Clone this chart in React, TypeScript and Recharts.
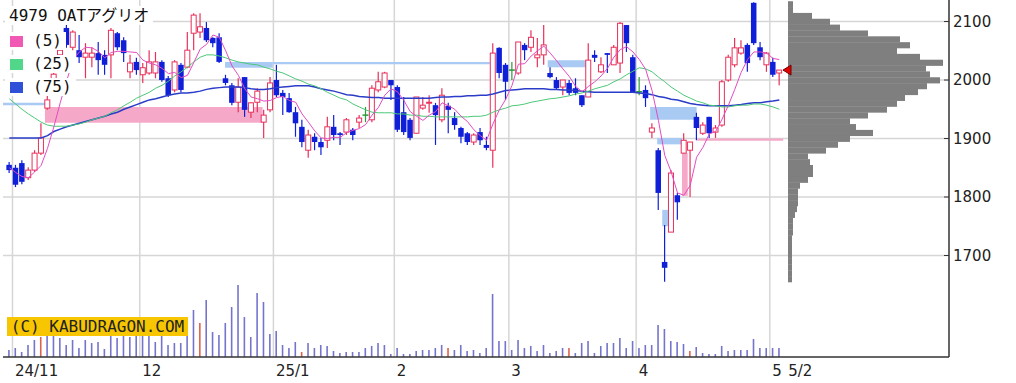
import React from 'react';
import {
  ComposedChart,
  Bar,
  Line,
  XAxis,
  YAxis,
  CartesianGrid,
  ReferenceArea,
  ReferenceDot,
  Cell,
} from 'recharts';

// 日足 index 0 = 2024/10/31 ... 121 = 2025/5/2
const opens = [
  1855, 1850, 1858, 1833, 1846, 1875, 1952, 2000, 2043, 2089,
  2056, 2051, 2039, 2039, 2046, 2043, 2043, 2080, 2068, 2014,
  2031, 2009, 2012, 2012, 2031, 2003, 1983, 2026, 2022, 2080,
  2082, 2089, 2072, 2073, 2003, 1991, 1962, 2005, 1945, 1962,
  1928, 1949, 2000, 1978, 1969, 1945, 1920, 1880, 1903, 1894,
  1897, 1920, 1909, 1911, 1915, 1928, 1940, 1932, 1983, 1988,
  2000, 1988, 1945, 1932, 1909, 1952, 1961, 1957, 1932, 1956,
  1935, 1918, 1909, 1894, 1911, 1889, 1880, 2055, 2026, 2017,
  2012, 2060, 2056, 2038, 2043, 2012, 2000, 1988, 1995, 1986,
  1974, 1971, 2043, 2014, 2046, 2026, 2029, 2094, 2039, 1980,
  1983, 1911, 1880, 1689, 1740, 1803, 1875, 1880, 1937, 1909,
  1937, 1911, 1923, 2000, 2026, 2046, 2060, 2132, 2056, 2026,
  2031, 2012,
];
const highs = [
  1860, 1855, 1863, 1851, 1880, 1926, 1973, 2017, 2060, 2094,
  2085, 2077, 2063, 2056, 2065, 2051, 2089, 2082, 2073, 2043,
  2038, 2029, 2051, 2048, 2034, 2007, 2034, 2029, 2082, 2114,
  2114, 2099, 2073, 2080, 2009, 1995, 2003, 2005, 1962, 1986,
  1949, 2005, 2026, 1983, 1978, 1954, 1932, 1915, 1909, 1901,
  1937, 1940, 1911, 1935, 1918, 1940, 1954, 1991, 2014, 2014,
  2000, 1991, 1971, 1935, 1971, 1971, 1974, 1961, 1986, 1961,
  1945, 1920, 1911, 1909, 1918, 1903, 2063, 2056, 2029, 2031,
  2065, 2063, 2085, 2072, 2094, 2022, 2005, 2000, 2000, 2003,
  1974, 2063, 2051, 2039, 2046, 2060, 2099, 2094, 2043, 2005,
  1991, 1926, 1884, 1752, 1846, 1807, 1909, 1894, 1944, 1928,
  1937, 1923, 2000, 2043, 2072, 2068, 2063, 2133, 2065, 2048,
  2038, 2017,
];
const lows = [
  1841, 1817, 1822, 1829, 1843, 1872, 1949, 1993, 2038, 2055,
  2051, 2029, 2003, 2022, 2009, 2009, 2003, 2051, 2031, 2003,
  2009, 1995, 2009, 2003, 1997, 1971, 1979, 1979, 2020, 2051,
  2072, 2065, 2056, 2029, 1991, 1957, 1945, 1937, 1935, 1945,
  1901, 1945, 1971, 1940, 1944, 1903, 1885, 1867, 1880, 1872,
  1884, 1897, 1889, 1906, 1897, 1918, 1928, 1928, 1979, 1986,
  1966, 1911, 1906, 1897, 1909, 1949, 1944, 1889, 1928, 1909,
  1915, 1892, 1889, 1889, 1889, 1880, 1850, 2003, 1966, 2000,
  2009, 2034, 2048, 2022, 2026, 2003, 1983, 1974, 1974, 1974,
  1954, 1971, 2031, 2012, 2012, 2026, 2012, 2048, 1979, 1974,
  1954, 1901, 1778, 1655, 1740, 1761, 1875, 1800, 1897, 1906,
  1901, 1901, 1920, 1997, 2022, 2043, 2014, 2060, 2034, 2014,
  2005, 1991,
];
const closes = [
  1846, 1821, 1826, 1846, 1875, 1901, 1966, 2010, 2051, 2060,
  2082, 2039, 2046, 2046, 2034, 2026, 2085, 2056, 2046, 2029,
  2017, 2021, 2031, 2031, 2000, 1974, 2031, 1983, 2051, 2111,
  2091, 2068, 2063, 2031, 1995, 1961, 1988, 1949, 1961, 1981,
  1940, 1995, 1974, 1971, 1945, 1926, 1894, 1906, 1894, 1885,
  1920, 1906, 1906, 1932, 1906, 1935, 1940, 1986, 1997, 2012,
  1991, 1915, 1911, 1901, 1971, 1957, 1962, 1940, 1974, 1949,
  1923, 1903, 1894, 1906, 1897, 1884, 2046, 2012, 1997, 2017,
  2065, 2051, 2073, 2043, 2060, 2005, 1986, 2000, 1978, 1978,
  1957, 2034, 2038, 2026, 2043, 2056, 2097, 2063, 1979, 1980,
  1969, 1918, 1807, 1679, 1841, 1791, 1897, 1894, 1918, 1923,
  1909, 1918, 1997, 2039, 2055, 2055, 2029, 2063, 2039, 2046,
  2009, 2017,
];
const ma5 = [
  1850, 1842, 1835, 1833, 1843, 1854, 1883, 1920, 1961, 1998,
  2034, 2048, 2056, 2055, 2049, 2038, 2047, 2049, 2049, 2048,
  2047, 2034, 2029, 2026, 2020, 2011, 2013, 2004, 2008, 2030,
  2053, 2061, 2077, 2073, 2050, 2024, 2008, 1985, 1971, 1968,
  1964, 1965, 1970, 1972, 1965, 1962, 1942, 1928, 1913, 1901,
  1900, 1902, 1902, 1910, 1914, 1917, 1924, 1940, 1953, 1974,
  1985, 1980, 1965, 1946, 1938, 1931, 1940, 1946, 1961, 1956,
  1950, 1938, 1929, 1915, 1905, 1897, 1925, 1949, 1967, 1991,
  2027, 2028, 2041, 2050, 2058, 2046, 2033, 2019, 2006, 1989,
  1980, 1989, 1997, 2007, 2020, 2039, 2052, 2057, 2048, 2035,
  2018, 1982, 1931, 1871, 1843, 1807, 1803, 1820, 1868, 1885,
  1908, 1912, 1933, 1957, 1984, 2013, 2035, 2048, 2048, 2046,
  2037, 2035,
];
const ma25 = [
  1968, 1959, 1950, 1942, 1935, 1928, 1923, 1921, 1921, 1921,
  1923, 1925, 1928, 1932, 1935, 1938, 1944, 1949, 1956, 1962,
  1969, 1974, 1979, 1986, 1991, 1998, 2007, 2014, 2022, 2031,
  2039, 2043, 2043, 2041, 2038, 2034, 2031, 2029, 2027, 2026,
  2022, 2019, 2015, 2012, 2007, 2002, 1998, 1993, 1990, 1985,
  1979, 1974, 1969, 1966, 1959, 1954, 1949, 1945, 1944, 1944,
  1944, 1942, 1942, 1940, 1940, 1938, 1938, 1937, 1937, 1937,
  1937, 1937, 1937, 1938, 1938, 1940, 1945, 1949, 1952, 1956,
  1957, 1959, 1962, 1964, 1966, 1968, 1969, 1971, 1973, 1976,
  1978, 1981, 1985, 1988, 1991, 1997, 2002, 2009, 2015, 2021,
  2019, 2014, 2005, 1997, 1988, 1981, 1974, 1969, 1964, 1961,
  1957, 1956, 1954, 1954, 1956, 1957, 1957, 1959, 1959, 1957,
  1954, 1950,
];
const ma75 = [
  1901, 1901, 1901, 1901, 1901, 1901, 1905, 1912, 1916, 1920,
  1923, 1926, 1929, 1932, 1935, 1938, 1942, 1945, 1950, 1954,
  1958, 1962, 1966, 1968, 1971, 1974, 1976, 1978, 1978, 1979,
  1981, 1984, 1986, 1987, 1988, 1988, 1988, 1987, 1985, 1984,
  1984, 1985, 1987, 1988, 1989, 1990, 1990, 1990, 1988, 1985,
  1983, 1981, 1978, 1975, 1974, 1972, 1971, 1970, 1970, 1969,
  1969, 1969, 1969, 1969, 1969, 1969, 1969, 1970, 1971, 1971,
  1972, 1972, 1973, 1973, 1974, 1974, 1976, 1979, 1982, 1983,
  1984, 1985, 1985, 1985, 1985, 1984, 1984, 1983, 1983, 1982,
  1981, 1980, 1979, 1979, 1979, 1979, 1979, 1979, 1979, 1978,
  1977, 1975, 1972, 1970, 1967, 1966, 1963, 1960, 1958, 1957,
  1956, 1956, 1956, 1956, 1957, 1958, 1960, 1961, 1961, 1963,
  1964, 1966,
];
// 出来高 (千株)
const volumes = [
  7, 9, 5, 12, 17, 20, 24, 26, 19, 12,
  17, 9, 17, 14, 15, 8, 26, 19, 28, 20,
  24, 26, 24, 15, 25, 12, 14, 14, 30, 47,
  34, 57, 25, 22, 34, 50, 72, 40, 20, 64,
  55, 23, 26, 12, 9, 15, 5, 14, 9, 12,
  11, 6, 4, 5, 5, 5, 9, 11, 14, 12,
  3, 9, 3, 3, 6, 7, 7, 9, 12, 9,
  7, 12, 6, 7, 4, 9, 63, 16, 16, 7,
  17, 9, 11, 6, 12, 4, 6, 9, 9, 4,
  14, 16, 4, 11, 14, 14, 19, 9, 16, 9,
  12, 12, 32, 28, 16, 15, 13, 6, 10, 4,
  3, 3, 11, 6, 7, 7, 7, 18, 9, 9,
  9, 9,
];
const markedDays = [5, 30, 46, 69, 88, 107];

const monthStarts = [1, 21, 42, 61, 79, 99, 120];
const monthLabels = ['24/11', '12', '25/1', '2', '3', '4', '5'];
const lastDatePos = 122;
const lastDateLabel = '5/2';
const priceTicks = [1700, 1800, 1900, 2000, 2100];

// 価格帯別出来高 (10円刻み, 千株)
const profilePrices = [
  2130, 2120, 2110, 2100, 2090, 2080, 2070, 2060, 2050, 2040,
  2030, 2020, 2010, 2000, 1990, 1980, 1970, 1960, 1950, 1940,
  1930, 1920, 1910, 1900, 1890, 1880, 1870, 1860, 1850, 1840,
  1830, 1820, 1810, 1800, 1790, 1780, 1770, 1760, 1750, 1740,
  1730, 1720, 1710, 1700, 1690, 1680, 1670, 1660,
];
const profileVolumes = [
  50, 50, 240, 420, 520, 800, 1120, 1220, 1090, 1320,
  1550, 1380, 1420, 1520, 1390, 1300, 1170, 1090, 990, 800,
  620, 680, 850, 620, 500, 380, 200, 220, 250, 250,
  200, 120, 100, 100, 100, 90, 70, 50, 50, 50,
  40, 40, 40, 40, 40, 40, 40, 40,
];

// 窓・抵抗帯
const zones = [
  { kind: 'up', from: 5.6, to: 39.8, lo: 1927, hi: 1954 },
  { kind: 'down', from: -1, to: 5.6, lo: 1957, hi: 1961 },
  { kind: 'down', from: 33.9, to: 41.4, lo: 2021, hi: 2031 },
  { kind: 'down', from: 41.4, to: 75.5, lo: 2027, hi: 2031 },
  { kind: 'down', from: 84.6, to: 90.8, lo: 2022, hi: 2034 },
  { kind: 'down', from: 100.7, to: 108, lo: 1932, hi: 1954 },
  { kind: 'down', from: 101.8, to: 105.7, lo: 1890, hi: 1901 },
  { kind: 'down', from: 102.6, to: 103.5, lo: 1750, hi: 1778 },
  { kind: 'up', from: 105.7, to: 106.6, lo: 1802, hi: 1875 },
  { kind: 'up', from: 108.1, to: 121.6, lo: 1896, hi: 1900 },
];

const xDomain = [-0.99, 147.66];
const priceDomain = [1526.5, 2136.8];
const binHeight = 357 * 10 / (priceDomain[1] - priceDomain[0]);

const data = closes.map((c, i) => ({
  i,
  open: opens[i],
  high: highs[i],
  low: lows[i],
  close: c,
  ma5: ma5[i],
  ma25: ma25[i],
  ma75: ma75[i],
  vol: volumes[i],
}));

const profile = profilePrices.map((p, i) => ({ price: p, vol: profileVolumes[i] }));

const UP = '#e8305a';
const DOWN = '#1020d8';
const EVEN = '#2a9a3a';

const Candle = (props: any) => {
  const { x, y, width, height, payload } = props;
  const { open, close, high, low } = payload;
  const cx = x + width / 2;
  const k = high === low ? 0 : height / (high - low);
  const py = (v: number) => y + (high - v) * k;
  const color = close > open ? UP : close < open ? DOWN : EVEN;
  const top = py(Math.max(open, close));
  const bot = py(Math.min(open, close));
  return (
    <g>
      <line x1={cx} x2={cx} y1={y} y2={y + height} stroke={color} strokeWidth={1.2} />
      {close > open && (
        <rect x={cx - 2.5} y={top} width={5} height={Math.max(bot - top, 1)} fill="#fff" stroke={color} strokeWidth={1} />
      )}
      {close < open && (
        <rect x={cx - 2.75} y={top} width={5.5} height={Math.max(bot - top, 1.5)} fill={color} />
      )}
      {close === open && <line x1={cx - 3} x2={cx + 3} y1={top} y2={top} stroke={color} strokeWidth={1.5} />}
    </g>
  );
};

// 価格帯別出来高の帯: 10円幅いっぱいに描く
const ProfileBar = (props: any) => {
  const { x, y, width, height, fill } = props;
  const cy = y + height / 2;
  return <rect x={x} y={cy - binHeight / 2} width={Math.max(width, 0)} height={binHeight + 0.3} fill={fill} />;
};

const XTick = ({ x, y, payload }: any) => {
  const idx = monthStarts.findIndex((m) => m - 0.5 === payload.value);
  const label = idx >= 0 ? monthLabels[idx] : lastDateLabel;
  return (
    <text x={x + 2.5} y={y + 19} fontSize={15} fontFamily="DejaVu Sans" fill="#222" textAnchor="start">
      {label}
    </text>
  );
};

const YTick = ({ x, y, payload }: any) => (
  <g>
    <line x1={x - 5} x2={x} y1={y} y2={y} stroke="#333" />
    <text x={x + 4} y={y} dy="0.36em" fontSize={15} fontFamily="DejaVu Sans" fill="#222" textAnchor="start">
      {payload.value}
    </text>
  </g>
);

const Marker = ({ cx, cy }: any) => (
  <polygon points={`${cx - 5},${cy} ${cx + 3},${cy - 5} ${cx + 3},${cy + 5}`} fill="#e00000" stroke="#700" strokeWidth={1} />
);

const legendRows = [
  { label: '(5)', color: '#f05ab4', top: 32 },
  { label: '(25)', color: '#52d68a', top: 55 },
  { label: '(75)', color: '#3050d8', top: 78 },
];

const mono = "'DejaVu Sans Mono', 'Noto Sans CJK JP', monospace";

export default function App() {
  const gridX = monthStarts.map((m) => m - 0.5);
  return (
    <div style={{ position: 'absolute', left: 0, top: 0, width: 1016, height: 383, background: '#fff', overflow: 'hidden' }}>
      <div style={{ position: 'absolute', left: 0, top: 0 }}>
        <ComposedChart width={1016} height={383} data={data} margin={{ top: 0, right: 0, bottom: 0, left: 3 }}>
          <CartesianGrid
            xAxisId="p"
            yAxisId="price"
            stroke="#d6d6d6"
            strokeWidth={1.5}
            verticalValues={gridX}
            horizontalValues={priceTicks}
          />
          <XAxis
            xAxisId="p"
            dataKey="i"
            type="number"
            domain={xDomain}
            allowDataOverflow
            ticks={[...gridX, lastDatePos]}
            tick={<XTick />}
            tickLine={false}
            tickSize={0}
            tickMargin={0}
            height={26}
            axisLine={{ stroke: '#333', strokeWidth: 1.5 }}
            interval={0}
          />
          <XAxis xAxisId="v" dataKey="i" type="number" domain={xDomain} allowDataOverflow hide />
          <YAxis
            yAxisId="price"
            orientation="right"
            type="number"
            domain={priceDomain}
            allowDataOverflow
            ticks={priceTicks}
            tick={<YTick />}
            tickLine={false}
            tickSize={0}
            tickMargin={0}
            width={67}
            axisLine={{ stroke: '#333', strokeWidth: 1.5 }}
            interval={0}
          />
          <YAxis
            yAxisId="vol"
            orientation="left"
            type="number"
            domain={[0, 357]}
            allowDataOverflow
            width={0}
            tick={false}
            tickLine={false}
            axisLine={{ stroke: '#a4a4ec', strokeWidth: 2 }}
          />
          {zones.map((z, n) => (
            <ReferenceArea
              key={n}
              xAxisId="p"
              yAxisId="price"
              x1={z.from}
              x2={z.to}
              y1={z.lo}
              y2={z.hi}
              fill={z.kind === 'up' ? '#f5a8c8' : '#a9caf3'}
              fillOpacity={1}
              stroke="none"
              ifOverflow="hidden"
            />
          ))}
          <Bar xAxisId="v" yAxisId="vol" dataKey="vol" barSize={1.6} isAnimationActive={false}>
            {data.map((d) => (
              <Cell key={d.i} fill={markedDays.includes(d.i) ? '#e0604c' : '#7474cc'} />
            ))}
          </Bar>
          <Line xAxisId="p" yAxisId="price" dataKey="ma75" stroke="#2a3cc8" strokeWidth={1.5} dot={false} isAnimationActive={false} />
          <Line xAxisId="p" yAxisId="price" dataKey="ma25" stroke="#4cc878" strokeWidth={1} dot={false} isAnimationActive={false} />
          <Line xAxisId="p" yAxisId="price" dataKey="ma5" stroke="#e44cc0" strokeWidth={1} dot={false} isAnimationActive={false} />
          <Bar
            xAxisId="p"
            yAxisId="price"
            dataKey={(d: any) => [d.low, d.high]}
            barSize={6}
            shape={<Candle />}
            isAnimationActive={false}
          />
        </ComposedChart>
      </div>

      <div style={{ position: 'absolute', left: 778, top: 0 }}>
        <ComposedChart layout="vertical" width={171} height={357} data={profile} margin={{ top: 0, right: 0, bottom: 0, left: 0 }}>
          <XAxis type="number" domain={[-100, 1610]} allowDataOverflow hide />
          <YAxis type="number" dataKey="price" domain={priceDomain} allowDataOverflow reversed hide />
          <Bar dataKey="vol" fill="#7f7f7f" shape={<ProfileBar />} isAnimationActive={false} />
          <ReferenceDot x={0} y={closes[closes.length - 1]} r={5} shape={<Marker />} />
        </ComposedChart>
      </div>

      <div
        style={{
          position: 'absolute', left: 5, top: 6, padding: '0 4px', height: 19, lineHeight: '19px',
          background: '#fff', fontFamily: mono, fontSize: 16, color: '#111', whiteSpace: 'nowrap',
        }}
      >
        4979 OATアグリオ
      </div>
      {legendRows.map((r) => (
        <div
          key={r.label}
          style={{
            position: 'absolute', left: 5, top: r.top, height: 18, lineHeight: '18px', paddingRight: 4,
            background: '#fff', fontFamily: mono, fontSize: 16, color: '#111', whiteSpace: 'nowrap',
            display: 'flex', alignItems: 'center',
          }}
        >
          <span style={{ display: 'inline-block', width: 13, height: 11, background: r.color, marginLeft: 5, marginRight: 10 }} />
          <span>{r.label}</span>
        </div>
      ))}
      <div
        style={{
          position: 'absolute', left: 7, top: 317, width: 181, height: 19, lineHeight: '19px',
          background: '#f7c600', fontFamily: mono, fontSize: 16, color: '#222', textAlign: 'center', whiteSpace: 'nowrap',
        }}
      >
        (C) KABUDRAGON.COM
      </div>
    </div>
  );
}
